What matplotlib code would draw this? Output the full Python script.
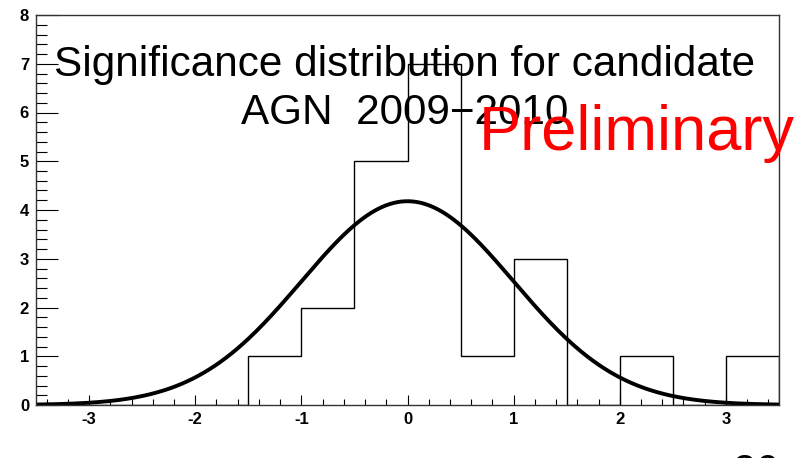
import numpy as np
import matplotlib
matplotlib.use("Agg")
import matplotlib.pyplot as plt
from matplotlib.ticker import MultipleLocator

# ---- data ----
bin_edges = [-3.5, -3.0, -2.5, -2.0, -1.5, -1.0, -0.5, 0.0, 0.5, 1.0, 1.5, 2.0, 2.5, 3.0, 3.5]
bin_counts = [0, 0, 0, 0, 1, 2, 5, 7, 1, 3, 0, 1, 0, 1]
gauss_amp = 4.18
gauss_mean = 0.0
gauss_sigma = 1.0
x_ticks = [-3, -2, -1, 0, 1, 2, 3]
y_ticks = [0, 1, 2, 3, 4, 5, 6, 7, 8]
title_line1 = "Significance distribution for candidate"
title_line2 = "AGN  2009\u22122010"
stamp = "Preliminary"
page_number = "26"

plt.rcParams['font.family'] = ['Liberation Sans', 'DejaVu Sans']
plt.rcParams['axes.unicode_minus'] = False

fig = plt.figure(figsize=(8.06, 4.58), dpi=100)
W, H = 806, 458
ax = fig.add_axes([36 / W, 1 - 405 / H, (779 - 36) / W, (405 - 15) / H])

ax.stairs(bin_counts, bin_edges, color='black', linewidth=1.0)
xs = np.linspace(bin_edges[0], bin_edges[-1], 400)
ys = gauss_amp * np.exp(-0.5 * ((xs - gauss_mean) / gauss_sigma) ** 2)
ax.plot(xs, ys, color='black', linewidth=2.8)

ax.set_xlim(bin_edges[0], bin_edges[-1])
ax.set_ylim(0, 8)
ax.set_xticks(x_ticks)
ax.set_yticks(y_ticks)
ax.xaxis.set_minor_locator(MultipleLocator(0.2))
ax.yaxis.set_minor_locator(MultipleLocator(0.2))
ax.tick_params(axis='y', which='major', direction='in', length=16, width=0.8, pad=5, labelsize=12)
ax.tick_params(axis='y', which='minor', direction='in', length=8, width=0.8)
ax.tick_params(axis='x', which='major', direction='in', length=7, width=0.8, pad=5, labelsize=12)
ax.tick_params(axis='x', which='minor', direction='in', length=4, width=0.8)
for lab in ax.get_xticklabels() + ax.get_yticklabels():
    lab.set_fontweight('bold')
for s in ax.spines.values():
    s.set_linewidth(1.0)
    s.set_color('#333333')

fig.text(405 / W, 1 - 76 / H, title_line1, ha='center', va='baseline', fontsize=30.4, color='black')
fig.text(405 / W, 1 - 124 / H, title_line2, ha='center', va='baseline', fontsize=30.4, color='black')
fig.text(479 / W, 1 - 150 / H, stamp, ha='left', va='baseline', fontsize=45.5, color='red')
fig.text(733 / W, 1 - 453 / H, page_number, ha='left', va='top', fontsize=30, color='black')

fig.savefig("out.png", dpi=100)
